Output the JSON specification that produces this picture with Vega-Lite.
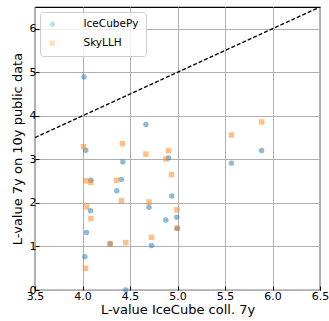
{
  "$schema": "https://vega.github.io/schema/vega-lite/v6.json",
  "width": 285,
  "height": 283,
  "autosize": {"type": "none"},
  "padding": {"left": 35, "top": 7, "right": 9, "bottom": 31},
  "config": {
    "font": "DejaVu Sans",
    "view": {"stroke": "black", "strokeWidth": 1.2},
    "axis": {
      "grid": true, "gridColor": "#b0b0b0", "gridWidth": 1, "gridOpacity": 1,
      "domain": false, "ticks": true, "tickSize": -4, "tickColor": "black",
      "labelFont": "DejaVu Sans", "labelFontSize": 11, "labelColor": "black",
      "titleFont": "DejaVu Sans", "titleFontSize": 13, "titleFontWeight": "normal", "titleColor": "black"
    }
  },
  "datasets": {
    "line": [{"x": 3.5, "y": 3.5}, {"x": 6.5, "y": 6.5}],
    "pts": [
      {"series": "IceCubePy", "x": 4.016, "y": 4.89},
      {"series": "IceCubePy", "x": 4.667, "y": 3.80},
      {"series": "IceCubePy", "x": 4.035, "y": 3.21},
      {"series": "IceCubePy", "x": 4.425, "y": 2.94},
      {"series": "IceCubePy", "x": 4.905, "y": 3.03},
      {"series": "IceCubePy", "x": 4.088, "y": 2.52},
      {"series": "IceCubePy", "x": 4.41, "y": 2.54},
      {"series": "IceCubePy", "x": 4.361, "y": 2.28},
      {"series": "IceCubePy", "x": 4.94, "y": 2.16},
      {"series": "IceCubePy", "x": 4.084, "y": 1.82},
      {"series": "IceCubePy", "x": 4.70, "y": 1.90},
      {"series": "IceCubePy", "x": 4.877, "y": 1.61},
      {"series": "IceCubePy", "x": 4.993, "y": 1.67},
      {"series": "IceCubePy", "x": 4.042, "y": 1.32},
      {"series": "IceCubePy", "x": 4.291, "y": 1.06},
      {"series": "IceCubePy", "x": 4.726, "y": 1.02},
      {"series": "IceCubePy", "x": 4.025, "y": 0.765},
      {"series": "IceCubePy", "x": 4.456, "y": 0.0},
      {"series": "IceCubePy", "x": 4.996, "y": 1.42},
      {"series": "IceCubePy", "x": 5.567, "y": 2.914},
      {"series": "IceCubePy", "x": 5.886, "y": 3.205},
      {"series": "SkyLLH", "x": 4.011, "y": 3.29},
      {"series": "SkyLLH", "x": 4.421, "y": 3.36},
      {"series": "SkyLLH", "x": 4.667, "y": 3.12},
      {"series": "SkyLLH", "x": 4.905, "y": 3.20},
      {"series": "SkyLLH", "x": 4.877, "y": 3.01},
      {"series": "SkyLLH", "x": 4.937, "y": 2.65},
      {"series": "SkyLLH", "x": 4.035, "y": 2.51},
      {"series": "SkyLLH", "x": 4.088, "y": 2.47},
      {"series": "SkyLLH", "x": 4.358, "y": 2.52},
      {"series": "SkyLLH", "x": 4.41, "y": 2.05},
      {"series": "SkyLLH", "x": 4.70, "y": 2.02},
      {"series": "SkyLLH", "x": 4.042, "y": 1.91},
      {"series": "SkyLLH", "x": 4.993, "y": 1.84},
      {"series": "SkyLLH", "x": 4.088, "y": 1.64},
      {"series": "SkyLLH", "x": 4.996, "y": 1.42},
      {"series": "SkyLLH", "x": 4.726, "y": 1.21},
      {"series": "SkyLLH", "x": 4.291, "y": 1.06},
      {"series": "SkyLLH", "x": 4.456, "y": 1.09},
      {"series": "SkyLLH", "x": 4.032, "y": 0.50},
      {"series": "SkyLLH", "x": 5.567, "y": 3.56},
      {"series": "SkyLLH", "x": 5.886, "y": 3.86}
    ]
  },
  "layer": [
    {
      "data": {"name": "line"},
      "mark": {"type": "line", "color": "black", "strokeWidth": 1.3, "strokeDash": [4, 2], "clip": true},
      "encoding": {
        "x": {"field": "x", "type": "quantitative", "scale": {"domain": [3.5, 6.5], "nice": false, "zero": false},
          "axis": {"title": "L-value IceCube coll. 7y", "values": [3.5, 4, 4.5, 5, 5.5, 6, 6.5], "format": ".1f", "labelPadding": 4, "titlePadding": 2, "labelFlush": false}},
        "y": {"field": "y", "type": "quantitative", "scale": {"domain": [0, 6.5], "nice": false, "zero": false},
          "axis": {"title": "L-value 7y on 10y public data", "values": [0, 1, 2, 3, 4, 5, 6], "format": "d", "labelPadding": 3, "titlePadding": 5, "labelFlush": false}}
      }
    },
    {
      "data": {"name": "pts"},
      "mark": {"type": "point", "filled": true, "opacity": 0.5, "size": 30, "clip": false},
      "encoding": {
        "x": {"field": "x", "type": "quantitative"},
        "y": {"field": "y", "type": "quantitative"},
        "color": {"field": "series", "type": "nominal",
          "scale": {"domain": ["IceCubePy", "SkyLLH"], "range": ["#1f77b4", "#ff7f0e"]},
          "legend": {"title": null, "orient": "none", "legendX": 5, "legendY": 5,
            "fillColor": "rgba(255,255,255,0.8)", "strokeColor": "#cccccc", "cornerRadius": 3,
            "padding": 7, "labelFontSize": 10.5, "labelFont": "DejaVu Sans", "labelColor": "black",
            "symbolSize": 28, "symbolOpacity": 0.5, "labelOffset": 26, "rowPadding": 7}},
        "shape": {"field": "series", "type": "nominal",
          "scale": {"domain": ["IceCubePy", "SkyLLH"], "range": ["circle", "square"]}}
      }
    }
  ]
}
